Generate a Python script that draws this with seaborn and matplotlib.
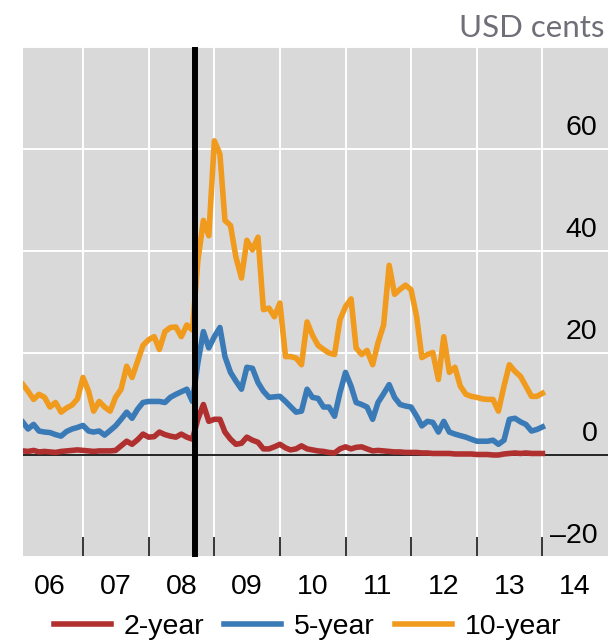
import pandas as pd
import numpy as np
import matplotlib
matplotlib.use("Agg")
import matplotlib.pyplot as plt
import matplotlib.transforms as mtransforms
import seaborn as sns

# Monthly observations, Feb 2006 to Jan 2014 (USD cents)
dates = pd.date_range("2006-02-01", "2014-01-01", freq="MS")

ten_year = [
    13.8, 12.5, 10.9, 11.9, 11.3, 9.4, 10.3, 8.4, 9.2, 9.8, 11.0,
    15.2, 12.5, 8.6, 10.5, 9.4, 8.6, 11.3, 12.9, 17.4, 15.2, 18.4, 21.5,
    22.6, 23.2, 20.7, 24.2, 25.0, 25.1, 23.2, 25.5, 24.5, 38.0, 46.0, 43.0,
    61.6, 59.0, 46.0, 45.0, 38.8, 34.7, 42.1, 40.2, 42.7, 28.5, 28.8, 27.1,
    29.8, 19.3, 19.3, 19.0, 17.7, 26.1, 23.5, 21.5, 20.7, 20.0, 19.7, 26.5,
    29.1, 30.6, 21.0, 19.7, 20.5, 17.7, 22.0, 25.5, 37.2, 31.5, 32.5, 33.3,
    32.4, 27.1, 19.1, 19.7, 20.1, 14.8, 23.2, 16.2, 17.2, 13.5, 11.9, 11.5,
    11.3, 11.0, 10.9, 10.9, 8.6, 13.5, 17.7, 16.4, 15.4, 13.5, 11.5, 11.5,
    12.1,
]
five_year = [
    6.4, 5.1, 6.0, 4.7, 4.5, 4.4, 4.0, 3.7, 4.6, 5.1, 5.4,
    5.8, 4.7, 4.5, 4.7, 3.9, 4.8, 5.7, 7.0, 8.4, 7.2, 9.0, 10.3,
    10.5, 10.5, 10.5, 10.3, 11.3, 11.9, 12.4, 12.9, 10.5, 18.0, 24.2, 21.0,
    23.2, 25.0, 19.3, 16.2, 14.5, 12.9, 17.2, 17.0, 14.2, 12.5, 11.3, 11.4,
    11.5, 10.5, 9.5, 8.4, 8.6, 12.9, 11.3, 11.1, 9.4, 9.4, 7.6, 12.2,
    16.2, 13.5, 10.3, 9.9, 9.4, 7.0, 10.3, 12.0, 13.8, 11.3, 9.9, 9.6,
    9.4, 7.6, 5.7, 6.6, 6.4, 4.5, 6.6, 4.5, 4.1, 3.8, 3.5, 3.1,
    2.7, 2.7, 2.7, 2.9, 2.1, 2.9, 7.0, 7.2, 6.5, 6.0, 4.7, 5.0,
    5.5,
]
two_year = [
    0.8, 0.7, 0.9, 0.6, 0.7, 0.6, 0.5, 0.7, 0.8, 0.9, 1.0,
    0.9, 0.8, 0.7, 0.8, 0.8, 0.8, 0.9, 1.8, 2.7, 2.1, 3.0, 4.1,
    3.5, 3.6, 4.5, 4.0, 3.7, 3.5, 4.1, 3.5, 3.1, 7.0, 9.9, 6.6,
    7.0, 7.0, 4.5, 3.1, 2.1, 2.3, 3.5, 2.9, 2.5, 1.2, 1.2, 1.6,
    2.1, 1.4, 1.0, 1.2, 1.8, 1.2, 1.0, 0.8, 0.7, 0.5, 0.4, 1.2,
    1.6, 1.2, 1.5, 1.6, 1.2, 0.8, 0.9, 0.8, 0.7, 0.6, 0.6, 0.5,
    0.5, 0.5, 0.4, 0.4, 0.3, 0.3, 0.3, 0.3, 0.2, 0.2, 0.2, 0.2,
    0.1, 0.1, 0.1, 0.0, 0.0, 0.2, 0.3, 0.4, 0.3, 0.4, 0.3, 0.3,
    0.3,
]

series_names = ["2-year", "5-year", "10-year"]
colors = {"2-year": "#b0302f", "5-year": "#3a7ab6", "10-year": "#f09a1e"}
year_labels = ["06", "07", "08", "09", "10", "11", "12", "13", "14"]
y_ticks = [-20, 0, 20, 40, 60]
event_date = pd.Timestamp("2008-09-15")

df = pd.DataFrame({
    "date": np.tile(dates, 3),
    "value": two_year + five_year + ten_year,
    "maturity": np.repeat(series_names, len(dates)),
})

plt.rcParams["font.family"] = ["Liberation Sans", "DejaVu Sans"]

fig = plt.figure(figsize=(6.08, 6.42), dpi=100)
ax = fig.add_axes([23 / 608, 85 / 642, 585 / 608, 510 / 642])
ax.set_facecolor("#d9d9d9")

sns.lineplot(data=df, x="date", y="value", hue="maturity", hue_order=series_names,
             palette=colors, linewidth=4.0, ax=ax, legend=False, zorder=2)

ax.axhline(0, color="black", linewidth=1.2, zorder=1.5)
ax.axvline(event_date, color="black", linewidth=4.3, zorder=3)

ax.set_xlim(pd.Timestamp("2006-02-01"), pd.Timestamp("2015-01-01"))
ax.set_ylim(-20, 79.5)

# year boundaries as major ticks (gridlines + inward ticks), labels at mid-year
ax.set_xticks([pd.Timestamp(f"{y}-01-01") for y in range(2007, 2015)])
ax.set_xticklabels([])
ax.set_xticks([pd.Timestamp(f"{y}-07-01") for y in range(2006, 2015)], minor=True)
ax.set_xticklabels(year_labels, minor=True, fontsize=20.5)
ax.tick_params(axis="x", which="major", direction="in", length=14.5, width=1.1, color="black")
ax.tick_params(axis="x", which="minor", length=0, pad=12)

ax.set_yticks(y_ticks + [80])
ax.set_yticklabels([])
ax.tick_params(axis="y", length=0)

ax.set_axisbelow(True)
ax.grid(True, which="major", color="white", linewidth=1.4)
for s in ax.spines.values():
    s.set_visible(False)
ax.set_xlabel("")
ax.set_ylabel("")

# value labels sit just above their gridlines, inside the panel
trans = mtransforms.offset_copy(ax.get_yaxis_transform(), fig=fig, x=0, y=6, units="points")
for v in y_ticks:
    lab = f"\u2013{abs(v)}" if v < 0 else str(v)
    ax.text(0.982, v, lab, transform=trans, ha="right", va="bottom", fontsize=20.5, color="black")

fig.text(0.995, 0.957, "USD cents", ha="right", va="center", fontsize=22.5,
         color="#6f6f78", family=["Lato", "DejaVu Sans"])

handles = [plt.Line2D([], [], color=colors[n], linewidth=4.0) for n in series_names]
fig.legend(handles, series_names, loc="center", bbox_to_anchor=(0.506, 0.024), ncol=3,
           frameon=False, fontsize=20.5, handlelength=2.0, handletextpad=0.45,
           columnspacing=0.7, borderpad=0.1)

fig.savefig("out.png", dpi=100)
